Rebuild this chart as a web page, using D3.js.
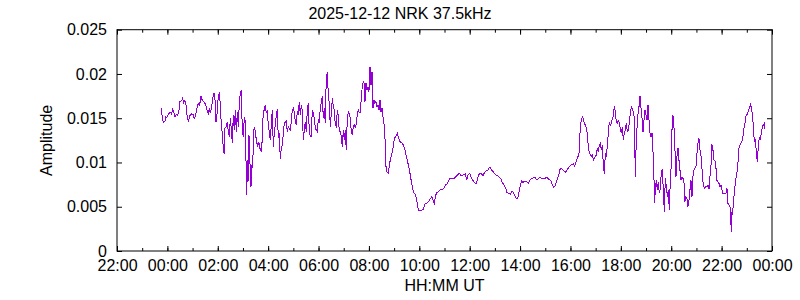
<!DOCTYPE html>
<html lang="en">
<head>
    <meta charset="UTF-8">
    <title>2025-12-12 NRK 37.5kHz</title>
    <script src="https://d3js.org/d3.v7.min.js"></script>
    <style>
        body {
            margin: 0;
            padding: 0;
            background: #fff;
        }
        svg text {
            font-family: "Liberation Sans", Arial, sans-serif;
            font-size: 16px;
            fill: #000;
        }
        .tick line {
            stroke: #000;
            stroke-width: 1px;
        }
        .trace {
            fill: none;
            stroke: #9400d3;
            stroke-width: 1px;
            shape-rendering: crispEdges;
        }
    </style>
</head>
<body>
    <svg id="chart" width="800" height="300"></svg>

    <script>
        const title = "2025-12-12 NRK 37.5kHz";
        const day = Date.UTC(2025, 11, 12);

        // y axis ticks
        const yTicks = [0, 0.005, 0.01, 0.015, 0.02, 0.025];

        // [minutes after 00:00 UT, amplitude]
        const readings = [
            [-15.2,0.01612],[-12.1,0.01517],[-9.7,0.01454],[-5.7,0.01461],[-4.1,0.01517],[-0.9,0.01510],
            [2.2,0.01548],[7.0,0.01567],[10.2,0.01544],[12.5,0.01612],[14.9,0.01574],[18.1,0.01517],
            [21.3,0.01544],[24.5,0.01536],[27.6,0.01593],[30.0,0.01687],[34.0,0.01698],[36.4,0.01725],
            [38.7,0.01676],[41.9,0.01698],[44.3,0.01649],[46.7,0.01536],[49.9,0.01469],[53.8,0.01529],
            [57.8,0.01548],[61.8,0.01544],[64.1,0.01487],[67.3,0.01536],[70.5,0.01612],[73.7,0.01668],
            [76.9,0.01649],[80.0,0.01755],[83.2,0.01698],[86.4,0.01687],[89.6,0.01668],[92.7,0.01630],
            [95.1,0.01574],[97.5,0.01555],[99.9,0.01612],[102.3,0.01555],[105.4,0.01630],[108.6,0.01743],
            [111.0,0.01781],[113.4,0.01706],[115.8,0.01461],[118.1,0.01536],[120.5,0.01706],[123.7,0.01800],
            [126.1,0.01649],[128.5,0.01423],[130.8,0.01329],[133.2,0.01160],[135.6,0.01092],[137.2,0.01386],
            [140.4,0.01404],[142.7,0.01461],[145.1,0.01348],[147.5,0.01291],[149.9,0.01499],[152.3,0.01367],
            [154.7,0.01216],[157.0,0.01536],[159.4,0.01367],[161.8,0.01593],[164.2,0.01348],[166.6,0.01574],
            [168.9,0.01404],[171.3,0.01668],[173.7,0.01781],[176.1,0.01819],[178.5,0.01348],[180.9,0.01291],
            [183.2,0.01517],[185.6,0.01461],[187.2,0.01028],[188.8,0.00633],[190.4,0.01028],[192.0,0.00783],
            [194.3,0.01310],[196.7,0.00990],[199.1,0.00727],[200.7,0.00971],[203.1,0.00934],[205.5,0.01367],
            [207.8,0.01404],[210.2,0.01310],[212.6,0.01235],[215.0,0.01179],[217.4,0.01235],
            [220.5,0.01160],[224.5,0.01122],[226.9,0.01404],[228.4,0.01574],[230.8,0.01593],[233.2,0.01649],
            [235.6,0.01555],[238.0,0.01593],[240.3,0.01423],[242.7,0.01348],[245.1,0.01254],[247.5,0.01423],
            [249.9,0.01593],[252.3,0.01179],[254.6,0.01329],[257.0,0.01423],[259.4,0.01536],[261.8,0.01600],
            [264.2,0.01273],[266.5,0.01329],[268.9,0.01035],[271.3,0.01160],[273.7,0.01197],[276.1,0.01329],
            [278.5,0.01442],[280.8,0.01457],[283.2,0.01469],[285.6,0.01348],[288.0,0.01404],[290.4,0.01386],
            [292.7,0.01367],[295.1,0.01461],[297.5,0.01593],[299.9,0.01612],[302.3,0.01574],[304.7,0.01461],
            [307.0,0.01423],[309.4,0.01574],[311.8,0.01555],[314.2,0.01687],[316.6,0.01536],[318.9,0.01649],
            [321.3,0.01593],[323.7,0.01254],[326.1,0.01367],[328.5,0.01461],[330.8,0.01348],[333.2,0.01593],
            [335.6,0.01668],[338.0,0.01348],[340.4,0.01291],[342.8,0.01291],[345.1,0.01593],[347.5,0.01555],
            [349.9,0.01499],[352.3,0.01386],[354.7,0.01367],[357.0,0.01348],[359.4,0.01480],[361.8,0.01461],
            [364.2,0.01612],[366.6,0.01687],[369.0,0.01751],[371.3,0.01499],[373.7,0.01612],[376.1,0.01442],
            [378.5,0.01988],[380.9,0.02007],[383.2,0.01781],[385.6,0.01668],[388.0,0.01404],[390.4,0.01555],
            [392.8,0.01725],[395.2,0.01630],[397.5,0.01593],[399.9,0.01423],[402.3,0.01404],[404.7,0.01593],
            [407.1,0.01536],[409.4,0.01348],[411.8,0.01348],[414.2,0.01291],[416.6,0.01179],[419.0,0.01367],
            [421.4,0.01254],[423.7,0.01367],[426.1,0.01141],[428.5,0.01499],[430.9,0.01574],[433.3,0.01555],
            [435.6,0.01499],[438.0,0.01348],[440.4,0.01310],[442.8,0.01404],[445.2,0.01423],[447.6,0.01386],
            [449.9,0.01442],[452.3,0.01536],[454.7,0.01600],[457.1,0.01562],[459.5,0.01562],[461.8,0.01736],
            [464.2,0.01857],[466.6,0.01913],[469.0,0.01894],
            [470.6,0.01687],[473.0,0.01894],[475.4,0.01819],[477.7,0.01856],[480.1,0.01800],[482.5,0.02082],
            [484.9,0.01875],[487.3,0.02026],[489.7,0.01612],[492.0,0.01706],[494.4,0.01668],[496.8,0.01687],
            [499.2,0.01630],[501.6,0.01649],[503.9,0.01593],[506.3,0.01706],[508.7,0.01574],[511.1,0.01612],
            [513.5,0.01517],[515.9,0.01442],[518.2,0.01291],[519.8,0.00990],[522.2,0.00896],[526.2,0.00877],
            [528.6,0.00971],[531.7,0.01047],[534.1,0.01084],[537.3,0.01160],[540.5,0.01273],[543.6,0.01291],
            [547.6,0.01329],[550.8,0.01273],[554.0,0.01235],[557.9,0.01224],[561.9,0.01197],[565.9,0.01141],
            [569.0,0.01066],[572.2,0.01009],[575.4,0.00934],[578.6,0.00858],[581.7,0.00764],[584.9,0.00689],
            [588.1,0.00651],[591.3,0.00632],[594.4,0.00557],[597.6,0.00463],[600.8,0.00455],[605.6,0.00463],
            [609.5,0.00470],[613.5,0.00531],[617.5,0.00538],[621.4,0.00557],[625.4,0.00583],[629.4,0.00614],
            [632.6,0.00576],[635.7,0.00538],[638.9,0.00632],[642.1,0.00659],[646.9,0.00678],[650.8,0.00696],
            [654.8,0.00696],[658.8,0.00708],[661.9,0.00745],[665.9,0.00757],[669.1,0.00783],[672.3,0.00821],
            [675.4,0.00813],[679.4,0.00821],[683.4,0.00821],[687.3,0.00839],[691.3,0.00858],[695.3,0.00877],
            [698.5,0.00858],[701.6,0.00847],[705.6,0.00866],[709.6,0.00870],[712.7,0.00802],[715.9,0.00858],
            [719.1,0.00877],
            [720.7,0.00870],[723.1,0.00832],[727.1,0.00802],[731.0,0.00772],[735.0,0.00757],[738.2,0.00802],
            [741.3,0.00858],[744.5,0.00877],[748.5,0.00870],[751.7,0.00847],[754.8,0.00885],[758.8,0.00904],
            [762.8,0.00907],[766.7,0.00941],[769.9,0.00938],[773.1,0.00907],[776.3,0.00896],[779.4,0.00870],
            [783.4,0.00858],[787.4,0.00847],[790.6,0.00832],[793.7,0.00821],[796.9,0.00783],[800.1,0.00757],
            [803.3,0.00734],[806.4,0.00697],[808.8,0.00659],[812.8,0.00651],[816.8,0.00640],[819.9,0.00670],
            [823.1,0.00670],[826.3,0.00633],[829.5,0.00602],[832.6,0.00591],[835.8,0.00614],[838.2,0.00689],
            [840.6,0.00745],[843.8,0.00794],[846.9,0.00772],[850.1,0.00787],[853.3,0.00783],[856.5,0.00783],
            [859.6,0.00764],[862.8,0.00794],[866.0,0.00817],[869.2,0.00817],[872.3,0.00832],[875.5,0.00832],
            [878.7,0.00809],[881.9,0.00809],[885.0,0.00825],[888.2,0.00832],[891.4,0.00817],[894.6,0.00825],
            [897.7,0.00817],[900.9,0.00825],[904.1,0.00832],[907.3,0.00817],[910.4,0.00802],[913.6,0.00794],
            [916.8,0.00745],[920.0,0.00719],[923.1,0.00734],[926.3,0.00783],[929.5,0.00821],[932.7,0.00870],
            [935.1,0.00923],[938.2,0.00934],[941.4,0.00923],[944.6,0.00900],[947.8,0.00892],[950.9,0.00907],
            [954.1,0.00930],[957.3,0.00953],[960.5,0.00968],[963.6,0.00975],[966.8,0.00983],[970.0,0.00960],
            [973.2,0.01009],
            [977.9,0.01066],[980.3,0.01103],[981.9,0.01254],[983.5,0.01404],[985.9,0.01480],[988.3,0.01518],
            [990.6,0.01499],[993.0,0.01442],[995.4,0.01423],[997.8,0.01386],[1000.2,0.01329],[1002.6,0.01160],
            [1004.9,0.01122],[1007.3,0.01084],[1009.7,0.01066],[1012.1,0.01084],[1014.5,0.01028],[1016.8,0.01047],
            [1019.2,0.01066],[1021.6,0.01084],[1024.0,0.01160],[1026.4,0.01122],[1028.8,0.01197],[1031.1,0.01216],
            [1033.5,0.01141],[1035.9,0.01197],[1038.3,0.00971],[1040.7,0.00870],[1043.0,0.01103],[1045.4,0.01066],
            [1047.8,0.01197],[1050.2,0.01337],[1052.6,0.01461],[1055.0,0.01423],[1057.3,0.01442],[1059.7,0.01499],
            [1062.1,0.01518],[1064.5,0.01642],[1066.9,0.01574],[1069.2,0.01461],[1071.6,0.01442],[1074.0,0.01472],
            [1076.4,0.01450],[1078.8,0.01374],[1081.2,0.01329],[1083.5,0.01404],[1085.9,0.01254],[1088.3,0.01329],
            [1090.7,0.01367],[1093.1,0.01442],[1095.4,0.01348],[1097.8,0.01367],[1100.2,0.01442],[1102.6,0.01563],
            [1105.0,0.01630],[1107.4,0.01600],[1109.7,0.01574],[1112.1,0.01499],[1114.5,0.00840],[1116.9,0.01273],
            [1119.3,0.01442],[1121.6,0.01593],[1124.0,0.01649],[1125.6,0.01751],[1128.0,0.01612],[1130.4,0.01499],
            [1132.8,0.01348],[1135.1,0.01480],[1137.5,0.01593],[1139.9,0.01536],[1142.3,0.01480],[1144.7,0.01649],
            [1147.0,0.01480],[1149.4,0.01329],[1151.8,0.01291],[1154.2,0.01329],[1156.6,0.01122],[1159.0,0.00802],
            [1160.5,0.00538],[1162.1,0.00708],[1164.5,0.00802],[1166.9,0.00689],[1169.3,0.00783],[1171.7,0.00651],
            [1174.0,0.00708],[1176.4,0.00896],[1178.8,0.00915],[1181.2,0.00689],[1183.6,0.00444],[1185.9,0.00821],
            [1188.3,0.00727],[1190.7,0.00614],[1193.1,0.00689],[1195.5,0.00463],[1197.9,0.00821],[1200.2,0.00971],
            [1201.8,0.01367],[1204.1,0.01536],[1206.5,0.01404],[1208.9,0.01141],[1211.3,0.00840],[1213.7,0.01066],
            [1216.1,0.01160],[1218.4,0.01028],[1220.8,0.00915],[1223.2,0.00802],[1225.6,0.00832],[1228.0,0.00821],
            [1230.3,0.00783],[1232.7,0.00557],[1235.1,0.00614],[1237.5,0.00595],[1239.9,0.00501],[1242.3,0.00576],
            [1244.6,0.00689],[1247.0,0.00802],[1249.4,0.00614],[1251.8,0.00840],[1254.2,0.00915],[1256.5,0.00934],
            [1258.9,0.00953],[1261.3,0.01103],[1263.7,0.01216],[1266.1,0.01273],[1268.5,0.01141],[1270.8,0.01084],
            [1273.2,0.00934],[1275.6,0.00783],[1278.0,0.00727],[1280.4,0.00708],[1282.7,0.00727],[1285.1,0.00727],
            [1287.5,0.00746],[1289.9,0.00696],[1292.3,0.00840],[1294.6,0.00953],[1297.0,0.01205],[1299.4,0.01141],
            [1301.8,0.01028],[1304.2,0.01021],[1306.6,0.00934],[1308.9,0.00795],[1311.3,0.00783],[1313.7,0.00764],
            [1316.1,0.00727],[1318.5,0.00746],[1320.8,0.00689],[1323.2,0.00651],[1325.6,0.00644],[1328.0,0.00644],
            [1330.4,0.00651],[1332.8,0.00708],[1335.1,0.00538],[1337.5,0.00520],[1339.9,0.00501],[1341.5,0.00388],
            [1343.1,0.00218],[1344.7,0.00444],[1346.3,0.00407],[1347.8,0.00538],[1349.4,0.00614],[1351.0,0.00689],
            [1353.4,0.00802],[1355.8,0.00877],[1358.2,0.00915],[1360.5,0.01160],[1362.9,0.01178],[1365.3,0.01216],
            [1367.7,0.01235],[1370.1,0.01254],[1372.4,0.01386],[1374.8,0.01404],[1377.2,0.01518],[1379.6,0.01536],
            [1382.0,0.01555],[1384.4,0.01593],[1386.7,0.01630],[1389.1,0.01657],[1391.5,0.01593],[1393.9,0.01518],
            [1395.5,0.01404],[1397.9,0.01235],[1400.2,0.01254],[1402.6,0.01122],[1405.0,0.01009],[1407.4,0.01178],
            [1409.8,0.01291],[1412.1,0.01254],[1414.5,0.01329],[1416.9,0.01404],[1419.3,0.01423],[1421.7,0.01442],
            [1422.5,0.01374]
        ];

        const svg = d3.select("#chart");
        const plotLeft = 117, plotRight = 772, plotTop = 29.7, plotBottom = 251;

        const x = d3.scaleUtc()
            .domain([new Date(day - 2 * 3600e3), new Date(day + 24 * 3600e3)])
            .range([plotLeft, plotRight]);
        const y = d3.scaleLinear()
            .domain([0, 0.025])
            .range([plotBottom, plotTop]);

        const hourFmt = d3.utcFormat("%H:%M");

        // minor hour ticks, bottom and top
        svg.append("g")
            .attr("transform", `translate(0,${plotBottom})`)
            .call(d3.axisBottom(x).ticks(d3.utcHour.every(1)).tickSize(-3).tickFormat(""))
            .call(g => g.select(".domain").remove());
        svg.append("g")
            .attr("transform", `translate(0,${plotTop})`)
            .call(d3.axisTop(x).ticks(d3.utcHour.every(1)).tickSize(-3).tickFormat(""))
            .call(g => g.select(".domain").remove());

        // major ticks
        svg.append("g")
            .attr("transform", `translate(0,${plotBottom})`)
            .call(d3.axisBottom(x).ticks(d3.utcHour.every(2)).tickSizeInner(-5).tickSizeOuter(0)
                .tickPadding(9).tickFormat(hourFmt))
            .call(g => g.select(".domain").remove());
        svg.append("g")
            .attr("transform", `translate(0,${plotTop})`)
            .call(d3.axisTop(x).ticks(d3.utcHour.every(2)).tickSize(-5).tickFormat(""))
            .call(g => g.select(".domain").remove());

        svg.append("g")
            .attr("transform", `translate(${plotLeft},0)`)
            .call(d3.axisLeft(y).tickValues(yTicks).tickSizeInner(-5).tickSizeOuter(0)
                .tickPadding(10).tickFormat(d => String(+d.toFixed(3))))
            .call(g => g.select(".domain").remove());
        svg.append("g")
            .attr("transform", `translate(${plotRight},0)`)
            .call(d3.axisRight(y).tickValues(yTicks).tickSize(-5).tickFormat(""))
            .call(g => g.select(".domain").remove());

        svg.selectAll("g").attr("font-size", null).attr("font-family", null);

        // border
        svg.append("rect")
            .attr("x", plotLeft).attr("y", plotTop)
            .attr("width", plotRight - plotLeft).attr("height", plotBottom - plotTop)
            .attr("fill", "none").attr("stroke", "#000").attr("stroke-width", 1);

        // trace
        const line = d3.line()
            .x(d => x(new Date(day + d[0] * 60e3)))
            .y(d => y(d[1]));
        svg.append("path")
            .datum(readings)
            .attr("class", "trace")
            .attr("d", line);

        // labels
        svg.append("text")
            .attr("x", 400).attr("y", 19)
            .attr("text-anchor", "middle")
            .text(title);
        svg.append("text")
            .attr("x", (plotLeft + plotRight) / 2).attr("y", 291)
            .attr("text-anchor", "middle")
            .text("HH:MM UT");
        svg.append("text")
            .attr("transform", `translate(52,${(plotTop + plotBottom) / 2}) rotate(-90)`)
            .attr("text-anchor", "middle")
            .text("Amplitude");
    </script>
</body>
</html>
